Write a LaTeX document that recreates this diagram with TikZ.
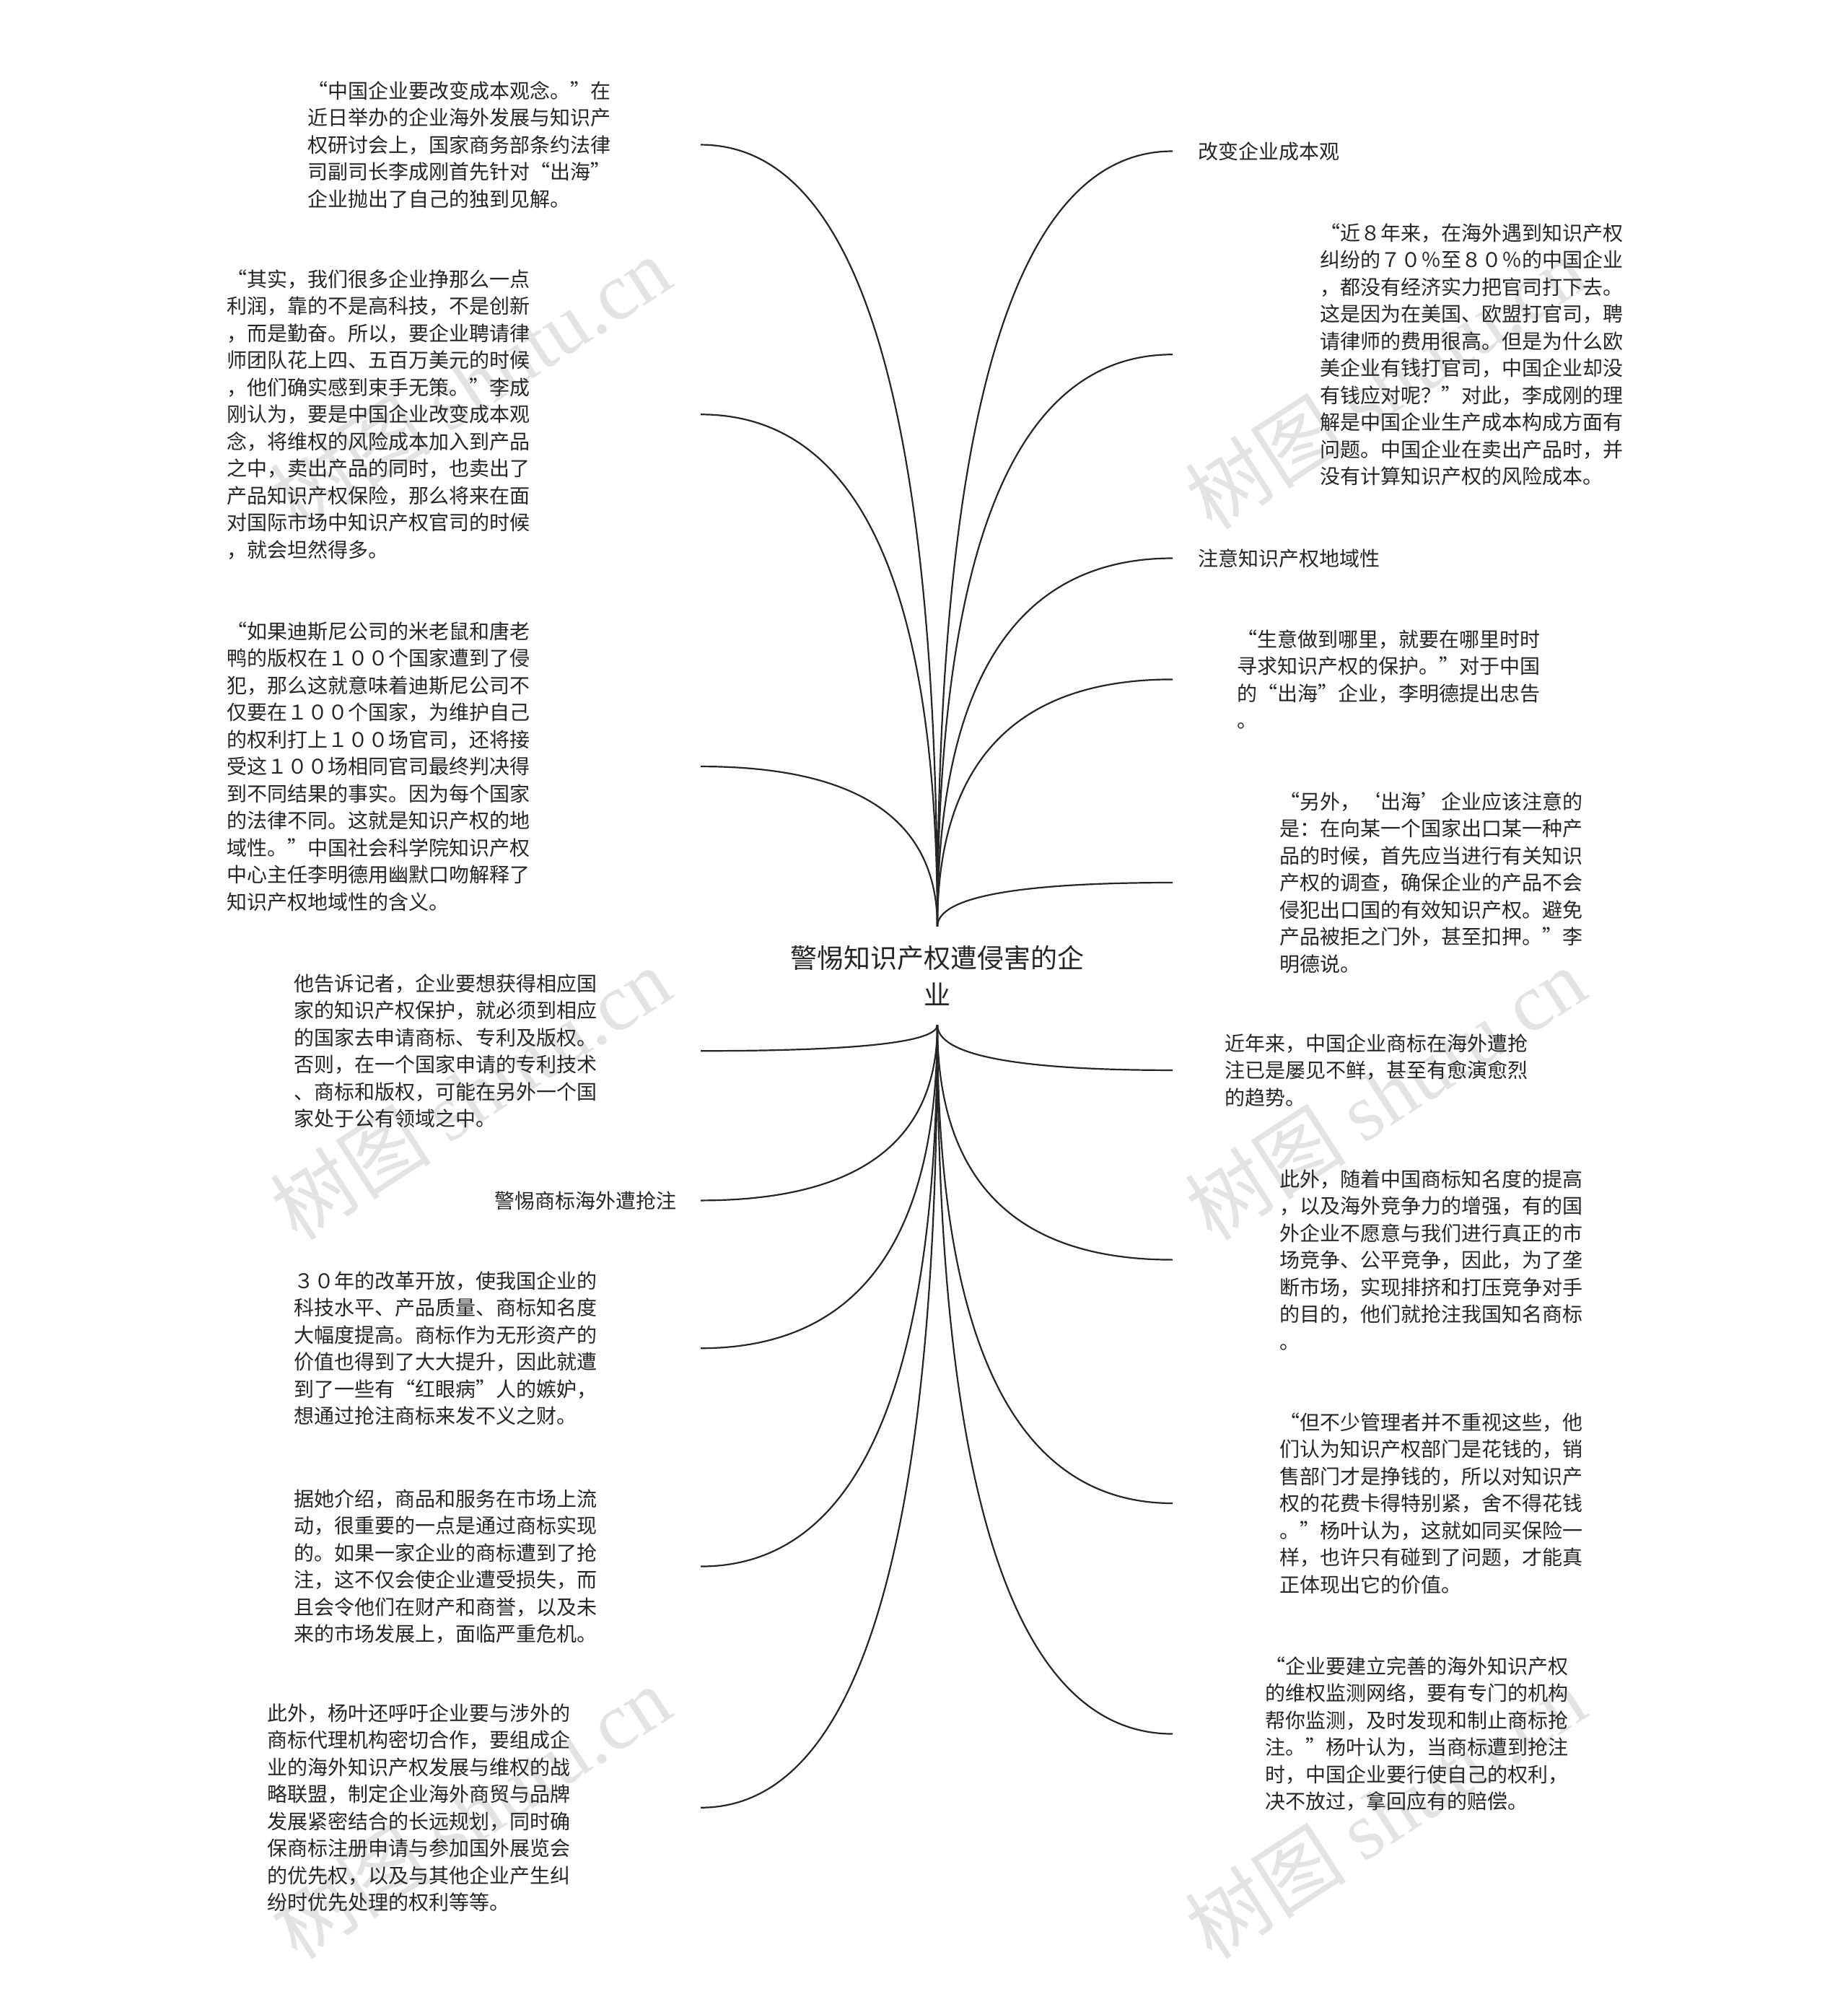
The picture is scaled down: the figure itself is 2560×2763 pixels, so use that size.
\documentclass[tikz,border=0pt]{standalone}
\usepackage{fontspec}
\setmainfont{Noto Sans CJK SC}
\newfontfamily\wmlatin{Liberation Serif}
\usetikzlibrary{calc}
\begin{document}
\begin{tikzpicture}[x=0.5pt,y=-0.5pt,
  txt/.style={anchor=north west, inner sep=0pt, align=left, text=black!85,
    font=\fontsize{14}{18.75}\selectfont},
  ctr/.style={inner xsep=0pt, inner ysep=13pt, align=center, text=black!85,
    font=\fontsize{18.5}{25.5}\selectfont},
  conn/.style={draw=black!85, line width=1.1pt},
  wm/.style={text=black!11, rotate=33, inner sep=0pt, font=\fontsize{56}{56}\selectfont}]
\fill[white] (0,0) rectangle (2560,2763);
% watermarks
\foreach \wx/\wy [count=\i] in {652/530,1920/530,652/1515,1920/1515,652/2511,1920/2511}
  \node[wm] (W\i) at (\wx,\wy) {树图 {\wmlatin shutu.cn}};
% centre
\node[ctr] (C) at (1299,1352) {警惕知识产权遭侵害的企\\业};
\coordinate (lx) at (971,0);
\coordinate (rx) at (1625,0);
% left side
\node[txt] (L1) at (426,112) {“中国企业要改变成本观念。”在\\近日举办的企业海外发展与知识产\\权研讨会上，国家商务部条约法律\\司副司长李成刚首先针对“出海”\\企业抛出了自己的独到见解。};
\node[txt] (L2) at (314,373) {“其实，我们很多企业挣那么一点\\利润，靠的不是高科技，不是创新\\，而是勤奋。所以，要企业聘请律\\师团队花上四、五百万美元的时候\\，他们确实感到束手无策。”李成\\刚认为，要是中国企业改变成本观\\念，将维权的风险成本加入到产品\\之中，卖出产品的同时，也卖出了\\产品知识产权保险，那么将来在面\\对国际市场中知识产权官司的时候\\，就会坦然得多。};
\node[txt] (L3) at (314,861) {“如果迪斯尼公司的米老鼠和唐老\\鸭的版权在１００个国家遭到了侵\\犯，那么这就意味着迪斯尼公司不\\仅要在１００个国家，为维护自己\\的权利打上１００场官司，还将接\\受这１００场相同官司最终判决得\\到不同结果的事实。因为每个国家\\的法律不同。这就是知识产权的地\\域性。”中国社会科学院知识产权\\中心主任李明德用幽默口吻解释了\\知识产权地域性的含义。};
\node[txt] (L4) at (407,1349) {他告诉记者，企业要想获得相应国\\家的知识产权保护，就必须到相应\\的国家去申请商标、专利及版权。\\否则，在一个国家申请的专利技术\\、商标和版权，可能在另外一个国\\家处于公有领域之中。};
\node[txt] (L5) at (685,1650) {警惕商标海外遭抢注};
\node[txt] (L6) at (407,1761) {３０年的改革开放，使我国企业的\\科技水平、产品质量、商标知名度\\大幅度提高。商标作为无形资产的\\价值也得到了大大提升，因此就遭\\到了一些有“红眼病”人的嫉妒，\\想通过抢注商标来发不义之财。};
\node[txt] (L7) at (407,2063) {据她介绍，商品和服务在市场上流\\动，很重要的一点是通过商标实现\\的。如果一家企业的商标遭到了抢\\注，这不仅会使企业遭受损失，而\\且会令他们在财产和商誉，以及未\\来的市场发展上，面临严重危机。};
\node[txt] (L8) at (370,2360) {此外，杨叶还呼吁企业要与涉外的\\商标代理机构密切合作，要组成企\\业的海外知识产权发展与维权的战\\略联盟，制定企业海外商贸与品牌\\发展紧密结合的长远规划，同时确\\保商标注册申请与参加国外展览会\\的优先权，以及与其他企业产生纠\\纷时优先处理的权利等等。};
% right side
\node[txt] (R1) at (1660,196) {改变企业成本观};
\node[txt] (R2) at (1829,309) {“近８年来，在海外遇到知识产权\\纠纷的７０％至８０％的中国企业\\，都没有经济实力把官司打下去。\\这是因为在美国、欧盟打官司，聘\\请律师的费用很高。但是为什么欧\\美企业有钱打官司，中国企业却没\\有钱应对呢？”对此，李成刚的理\\解是中国企业生产成本构成方面有\\问题。中国企业在卖出产品时，并\\没有计算知识产权的风险成本。};
\node[txt] (R3) at (1660,760) {注意知识产权地域性};
\node[txt] (R4) at (1714,872) {“生意做到哪里，就要在哪里时时\\寻求知识产权的保护。”对于中国\\的“出海”企业，李明德提出忠告\\。};
\node[txt] (R5) at (1773,1097) {“另外，‘出海’企业应该注意的\\是：在向某一个国家出口某一种产\\品的时候，首先应当进行有关知识\\产权的调查，确保企业的产品不会\\侵犯出口国的有效知识产权。避免\\产品被拒之门外，甚至扣押。”李\\明德说。};
\node[txt] (R6) at (1697,1432) {近年来，中国企业商标在海外遭抢\\注已是屡见不鲜，甚至有愈演愈烈\\的趋势。};
\node[txt] (R7) at (1773,1620) {此外，随着中国商标知名度的提高\\，以及海外竞争力的增强，有的国\\外企业不愿意与我们进行真正的市\\场竞争、公平竞争，因此，为了垄\\断市场，实现排挤和打压竞争对手\\的目的，他们就抢注我国知名商标\\。};
\node[txt] (R8) at (1773,1957) {“但不少管理者并不重视这些，他\\们认为知识产权部门是花钱的，销\\售部门才是挣钱的，所以对知识产\\权的花费卡得特别紧，舍不得花钱\\。”杨叶认为，这就如同买保险一\\样，也许只有碰到了问题，才能真\\正体现出它的价值。};
\node[txt] (R9) at (1753,2295) {“企业要建立完善的海外知识产权\\的维权监测网络，要有专门的机构\\帮你监测，及时发现和制止商标抢\\注。”杨叶认为，当商标遭到抢注\\时，中国企业要行使自己的权利，\\决不放过，拿回应有的赔偿。};
% connector end points and corner points
\foreach \n in {L1,L2,L3,L4,L5,L6,L7,L8}
  \coordinate (e\n) at (\n.center -| lx);
\foreach \n in {R1,R2,R3,R4,R5,R6,R7,R8,R9}
  \coordinate (e\n) at (\n.center -| rx);
% connectors: quadratic curves with the corner as control point
\foreach \n in {L1,L2,L3,R1,R2,R3,R4,R5}
  \draw[conn] (C.north) .. controls ($(C.north)!2/3!(C.north |- e\n)$) and ($(e\n)!2/3!(C.north |- e\n)$) .. (e\n);
\foreach \n in {L4,L5,L6,L7,L8,R6,R7,R8,R9}
  \draw[conn] (C.south) .. controls ($(C.south)!2/3!(C.south |- e\n)$) and ($(e\n)!2/3!(C.south |- e\n)$) .. (e\n);
\end{tikzpicture}
\end{document}
